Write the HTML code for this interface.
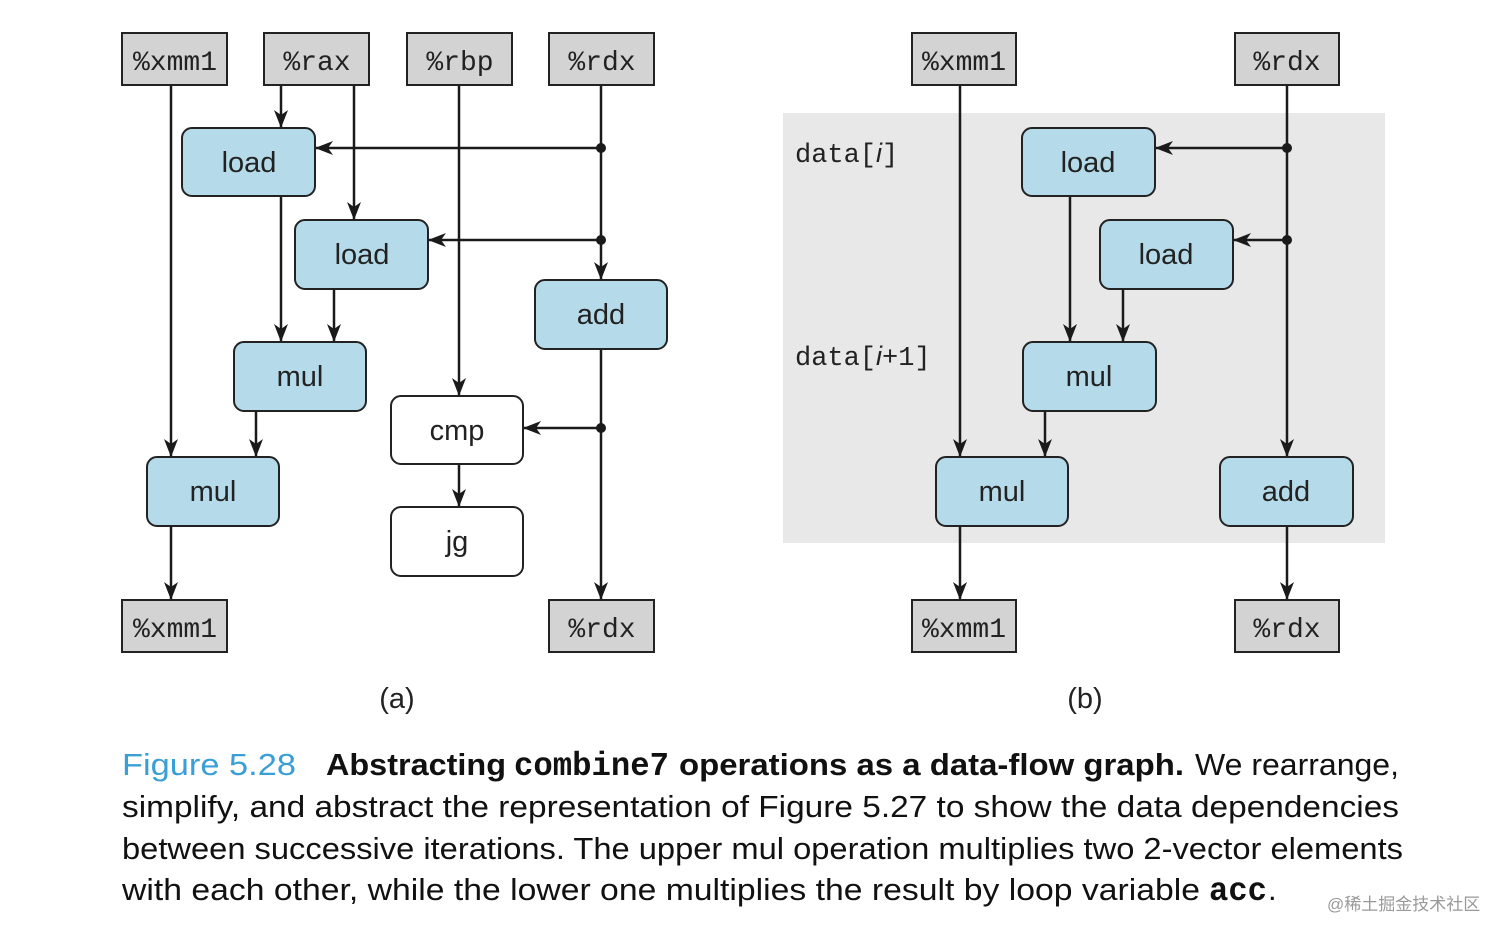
<!DOCTYPE html>
<html><head><meta charset="utf-8"><style>
html,body{margin:0;padding:0;background:#fff;}
svg{display:block}
.reg{fill:#d3d3d3;stroke:#222;stroke-width:2}
.op{fill:#b5dbea;stroke:#222;stroke-width:2}
.opw{fill:#fff;stroke:#222;stroke-width:2}
.rt{font-family:"Liberation Mono",monospace;font-size:28px;fill:#222;text-anchor:middle}
.ot{font-family:"Liberation Sans",sans-serif;font-size:29px;fill:#222;text-anchor:middle}
.ln{stroke:#1a1a1a;stroke-width:2.5;fill:none}
.cap{font-family:"Liberation Sans",sans-serif;font-size:31px;fill:#111}
</style></head><body>
<svg width="1512" height="939" viewBox="0 0 1512 939" xmlns="http://www.w3.org/2000/svg">
<defs>
<marker id="a" viewBox="0 0 18 14" refX="17" refY="7" markerWidth="18" markerHeight="14" markerUnits="userSpaceOnUse" orient="auto">
<path d="M0,0 L18,7 L0,14 L5,7 Z" fill="#1a1a1a"/></marker>
</defs>
<rect x="783" y="113" width="602" height="430" fill="#e8e8e8"/>

<g class="ln">
<line x1="171" y1="85" x2="171" y2="456" marker-end="url(#a)"/>
<line x1="281" y1="85" x2="281" y2="127" marker-end="url(#a)"/>
<line x1="354" y1="85" x2="354" y2="219" marker-end="url(#a)"/>
<line x1="459" y1="85" x2="459" y2="395" marker-end="url(#a)"/>
<line x1="601" y1="85" x2="601" y2="279" marker-end="url(#a)"/>
<line x1="601" y1="148" x2="316" y2="148" marker-end="url(#a)"/>
<line x1="601" y1="240" x2="429" y2="240" marker-end="url(#a)"/>
<line x1="281" y1="196" x2="281" y2="341" marker-end="url(#a)"/>
<line x1="334" y1="289" x2="334" y2="341" marker-end="url(#a)"/>
<line x1="256" y1="411" x2="256" y2="456" marker-end="url(#a)"/>
<line x1="601" y1="349" x2="601" y2="599" marker-end="url(#a)"/>
<line x1="601" y1="428" x2="524" y2="428" marker-end="url(#a)"/>
<line x1="459" y1="464" x2="459" y2="506" marker-end="url(#a)"/>
<line x1="171" y1="526" x2="171" y2="599" marker-end="url(#a)"/>
</g>
<circle cx="601" cy="148" r="5" fill="#1a1a1a"/>
<circle cx="601" cy="240" r="5" fill="#1a1a1a"/>
<circle cx="601" cy="428" r="5" fill="#1a1a1a"/>

<g class="ln">
<line x1="960" y1="85" x2="960" y2="456" marker-end="url(#a)"/>
<line x1="1287" y1="85" x2="1287" y2="456" marker-end="url(#a)"/>
<line x1="1287" y1="148" x2="1156" y2="148" marker-end="url(#a)"/>
<line x1="1287" y1="240" x2="1234" y2="240" marker-end="url(#a)"/>
<line x1="1070" y1="196" x2="1070" y2="341" marker-end="url(#a)"/>
<line x1="1123" y1="289" x2="1123" y2="341" marker-end="url(#a)"/>
<line x1="1045" y1="411" x2="1045" y2="456" marker-end="url(#a)"/>
<line x1="960" y1="526" x2="960" y2="599" marker-end="url(#a)"/>
<line x1="1287" y1="526" x2="1287" y2="599" marker-end="url(#a)"/>
</g>
<circle cx="1287" cy="148" r="5" fill="#1a1a1a"/>
<circle cx="1287" cy="240" r="5" fill="#1a1a1a"/>

<rect class="reg" x="122" y="33" width="105" height="52"/><text class="rt" x="175" y="70">%xmm1</text>
<rect class="reg" x="264" y="33" width="105" height="52"/><text class="rt" x="317" y="70">%rax</text>
<rect class="reg" x="407" y="33" width="105" height="52"/><text class="rt" x="460" y="70">%rbp</text>
<rect class="reg" x="549" y="33" width="105" height="52"/><text class="rt" x="602" y="70">%rdx</text>
<rect class="reg" x="122" y="600" width="105" height="52"/><text class="rt" x="175" y="637">%xmm1</text>
<rect class="reg" x="549" y="600" width="105" height="52"/><text class="rt" x="602" y="637">%rdx</text>
<rect class="reg" x="912" y="33" width="104" height="52"/><text class="rt" x="964" y="70">%xmm1</text>
<rect class="reg" x="1235" y="33" width="104" height="52"/><text class="rt" x="1287" y="70">%rdx</text>
<rect class="reg" x="912" y="600" width="104" height="52"/><text class="rt" x="964" y="637">%xmm1</text>
<rect class="reg" x="1235" y="600" width="104" height="52"/><text class="rt" x="1287" y="637">%rdx</text>

<rect class="op" x="182" y="128" width="133" height="68" rx="10"/><text class="ot" x="249" y="172">load</text>
<rect class="op" x="295" y="220" width="133" height="69" rx="10"/><text class="ot" x="362" y="264">load</text>
<rect class="op" x="535" y="280" width="132" height="69" rx="10"/><text class="ot" x="601" y="324">add</text>
<rect class="op" x="234" y="342" width="132" height="69" rx="10"/><text class="ot" x="300" y="386">mul</text>
<rect class="opw" x="391" y="396" width="132" height="68" rx="10"/><text class="ot" x="457" y="440">cmp</text>
<rect class="op" x="147" y="457" width="132" height="69" rx="10"/><text class="ot" x="213" y="501">mul</text>
<rect class="opw" x="391" y="507" width="132" height="69" rx="10"/><text class="ot" x="457" y="551">jg</text>

<rect class="op" x="1022" y="128" width="133" height="68" rx="10"/><text class="ot" x="1088" y="172">load</text>
<rect class="op" x="1100" y="220" width="133" height="69" rx="10"/><text class="ot" x="1166" y="264">load</text>
<rect class="op" x="1023" y="342" width="133" height="69" rx="10"/><text class="ot" x="1089" y="386">mul</text>
<rect class="op" x="936" y="457" width="132" height="69" rx="10"/><text class="ot" x="1002" y="501">mul</text>
<rect class="op" x="1220" y="457" width="133" height="69" rx="10"/><text class="ot" x="1286" y="501">add</text>

<text x="795" y="162" font-family="Liberation Mono,monospace" font-size="27" fill="#222">data[<tspan font-family="Liberation Sans,sans-serif" font-style="italic">i</tspan>]</text>
<text x="795" y="365" font-family="Liberation Mono,monospace" font-size="27" fill="#222">data[<tspan font-family="Liberation Sans,sans-serif" font-style="italic">i</tspan>+1]</text>

<text class="ot" x="397" y="708">(a)</text>
<text class="ot" x="1085" y="708">(b)</text>

<text class="cap" x="122" y="775"><tspan fill="#3a9fd6" textLength="174" lengthAdjust="spacingAndGlyphs">Figure 5.28</tspan></text>
<text class="cap" x="326" y="775" font-weight="bold" textLength="180" lengthAdjust="spacingAndGlyphs">Abstracting</text>
<text x="514" y="775" font-family="Liberation Mono,monospace" font-weight="bold" font-size="33" fill="#111" textLength="155" lengthAdjust="spacingAndGlyphs">combine7</text>
<text class="cap" x="679" y="775" font-weight="bold" textLength="505" lengthAdjust="spacingAndGlyphs">operations as a data-flow graph.</text>
<text class="cap" x="1195" y="775" textLength="204" lengthAdjust="spacingAndGlyphs">We rearrange,</text>
<text class="cap" x="122" y="817" textLength="1277" lengthAdjust="spacingAndGlyphs">simplify, and abstract the representation of Figure 5.27 to show the data dependencies</text>
<text class="cap" x="122" y="859" textLength="1281" lengthAdjust="spacingAndGlyphs">between successive iterations. The upper mul operation multiplies two 2-vector elements</text>
<text class="cap" x="122" y="900" textLength="1078" lengthAdjust="spacingAndGlyphs">with each other, while the lower one multiplies the result by loop variable</text>
<text x="1209" y="900" font-family="Liberation Mono,monospace" font-weight="bold" font-size="33" fill="#111" textLength="58" lengthAdjust="spacingAndGlyphs">acc</text>
<text class="cap" x="1268" y="900">.</text>
<text x="1327" y="910" font-family="Liberation Sans,'Noto Sans CJK SC',sans-serif" font-size="17" fill="#999">@稀土掘金技术社区</text>
</svg>
</body></html>
